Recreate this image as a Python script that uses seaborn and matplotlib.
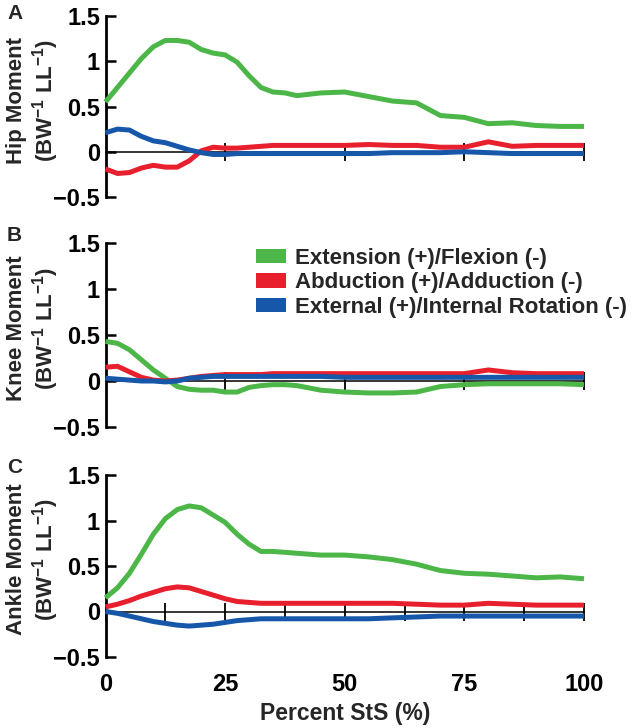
import numpy as np
import pandas as pd
import matplotlib
matplotlib.use("Agg")
import matplotlib.pyplot as plt
import seaborn as sns
from matplotlib.patches import Patch

# ---------------- data ----------------
pct = [0, 2.5, 5, 7.5, 10, 12.5, 15, 17.5, 20, 22.5, 25, 27.5, 30, 32.5, 35,
       37.5, 40, 45, 50, 55, 60, 65, 70, 75, 80, 85, 90, 95, 100]

hip_ext = [0.55, 0.71, 0.87, 1.03, 1.16, 1.23, 1.23, 1.21, 1.13, 1.09, 1.07, 0.99,
           0.84, 0.71, 0.66, 0.65, 0.62, 0.65, 0.66, 0.61, 0.56, 0.54, 0.40, 0.38,
           0.31, 0.32, 0.29, 0.28, 0.28]
hip_abd = [-0.19, -0.24, -0.23, -0.18, -0.15, -0.17, -0.17, -0.10, 0.01, 0.05, 0.04,
           0.04, 0.05, 0.06, 0.07, 0.07, 0.07, 0.07, 0.07, 0.08, 0.07, 0.07, 0.05,
           0.05, 0.11, 0.06, 0.07, 0.07, 0.07]
hip_rot = [0.21, 0.25, 0.24, 0.17, 0.12, 0.10, 0.06, 0.02, -0.01, -0.03, -0.03,
           -0.02, -0.02, -0.02, -0.02, -0.02, -0.02, -0.02, -0.02, -0.02, -0.01,
           -0.01, -0.01, 0.00, -0.01, -0.02, -0.02, -0.02, -0.02]

knee_ext = [0.43, 0.41, 0.34, 0.23, 0.12, 0.03, -0.06, -0.09, -0.10, -0.10, -0.12,
            -0.12, -0.07, -0.05, -0.04, -0.04, -0.05, -0.10, -0.12, -0.13, -0.13,
            -0.12, -0.06, -0.04, -0.03, -0.03, -0.03, -0.03, -0.04]
knee_abd = [0.15, 0.16, 0.10, 0.04, 0.01, 0.00, 0.01, 0.03, 0.05, 0.06, 0.07, 0.07,
            0.07, 0.07, 0.08, 0.08, 0.08, 0.08, 0.08, 0.08, 0.08, 0.08, 0.08, 0.08,
            0.12, 0.09, 0.08, 0.08, 0.08]
knee_rot = [0.03, 0.02, 0.01, 0.00, 0.00, -0.01, 0.00, 0.03, 0.04, 0.05, 0.05, 0.05,
            0.05, 0.05, 0.05, 0.05, 0.05, 0.05, 0.04, 0.04, 0.04, 0.04, 0.04, 0.04,
            0.04, 0.04, 0.04, 0.04, 0.04]

ankle_ext = [0.15, 0.26, 0.42, 0.63, 0.85, 1.02, 1.12, 1.16, 1.14, 1.06, 0.98, 0.85,
             0.74, 0.66, 0.66, 0.65, 0.64, 0.62, 0.62, 0.60, 0.57, 0.52, 0.45, 0.42,
             0.41, 0.39, 0.37, 0.38, 0.36]
ankle_abd = [0.05, 0.08, 0.12, 0.17, 0.21, 0.25, 0.27, 0.26, 0.22, 0.18, 0.14, 0.11,
             0.10, 0.09, 0.09, 0.09, 0.09, 0.09, 0.09, 0.09, 0.09, 0.08, 0.07, 0.07,
             0.09, 0.08, 0.07, 0.07, 0.07]
ankle_rot = [0.00, -0.02, -0.05, -0.08, -0.11, -0.13, -0.15, -0.16, -0.15, -0.14,
             -0.12, -0.10, -0.09, -0.08, -0.08, -0.08, -0.08, -0.08, -0.08, -0.08,
             -0.07, -0.06, -0.05, -0.05, -0.05, -0.05, -0.05, -0.05, -0.05]

components = ["Extension (+)/Flexion (-)", "Abduction (+)/Adduction (-)",
              "External (+)/Internal Rotation (-)"]
joints = ["Hip", "Knee", "Ankle"]
panel_letters = ["A", "B", "C"]
series = {
    "Hip": [hip_ext, hip_abd, hip_rot],
    "Knee": [knee_ext, knee_abd, knee_rot],
    "Ankle": [ankle_ext, ankle_abd, ankle_rot],
}
y_ticks = [-0.5, 0, 0.5, 1, 1.5]
y_tick_labels = ["\u22120.5", "0", "0.5", "1", "1.5"]
x_ticks = [0, 25, 50, 75, 100]
x_minor_ticks = [12.5, 37.5, 62.5, 87.5]
x_label = "Percent StS (%)"

colors = ["#4CB748", "#E8202D", "#1657AA"]

# ---------------- style ----------------
sns.set_theme(style="white")
plt.rcParams["font.family"] = ["Liberation Sans", "DejaVu Sans"]
plt.rcParams["font.weight"] = "bold"
plt.rcParams["mathtext.fontset"] = "custom"
plt.rcParams["mathtext.rm"] = "Liberation Sans:bold"
plt.rcParams["mathtext.bf"] = "Liberation Sans:bold"
plt.rcParams["mathtext.it"] = "Liberation Sans:bold"

W, H = 638, 728
fig = plt.figure(figsize=(W / 100, H / 100), dpi=100)

# axes boxes in pixels: (top of 1.5, bottom of -0.5)
rows_px = [(16, 197), (243, 427), (475, 657)]
left_px, right_px = 105.5, 584
letter_top_px = [4, 226, 458]

axes = []
for i, joint in enumerate(joints):
    top, bot = rows_px[i]
    ax = fig.add_axes([left_px / W, 1 - bot / H, (right_px - left_px) / W, (bot - top) / H])
    axes.append(ax)
    df = pd.DataFrame({
        "pct": np.tile(pct, 3),
        "value": np.concatenate(series[joint]),
        "component": np.repeat(components, len(pct)),
    })
    sns.lineplot(data=df, x="pct", y="value", hue="component", hue_order=components,
                 palette=colors, linewidth=3.6, legend=False, ax=ax, zorder=3,
                 solid_capstyle="butt")
    for ln in ax.lines:
        ln.set_clip_on(False)

    ax.set_xlim(0, 100)
    ax.set_ylim(-0.5, 1.5)
    for s in ["top", "right"]:
        ax.spines[s].set_visible(False)
    ax.spines["left"].set_linewidth(2.0)
    ax.spines["left"].set_color("black")
    ax.spines["bottom"].set_position(("data", 0))
    ax.spines["bottom"].set_linewidth(1.1)
    ax.spines["bottom"].set_color("black")
    ax.spines["bottom"].set_zorder(2)

    ax.set_yticks(y_ticks)
    ax.set_yticklabels(y_tick_labels)
    ax.tick_params(axis="y", direction="in", length=7.5, width=1.8, pad=4,
                   labelsize=17, colors="black", left=True)

    if i < 2:
        ax.set_xticks([25, 50, 75, 100])
        ax.tick_params(axis="x", direction="inout", length=13, width=1.3,
                       labelbottom=False, bottom=True, colors="black")
        ax.set_xlabel("")
    else:
        ax.set_xticks(x_ticks)
        ax.set_xticklabels([str(t) for t in x_ticks])
        ax.set_xticks(x_minor_ticks, minor=True)
        ax.tick_params(axis="x", which="both", direction="inout", length=13,
                       width=1.3, bottom=True, colors="black")
        ax.tick_params(axis="x", which="major", labelsize=17, pad=38)
        ax.set_xlabel(x_label, fontsize=16.5, fontweight="bold")
        ax.xaxis.set_label_coords(0.5, -0.245)
    for lab in ax.get_xticklabels() + ax.get_yticklabels():
        lab.set_fontweight("bold")

    ax.set_ylabel(f"{joint} Moment\n(BW$^{{-1}}$ LL$^{{-1}}$)", fontsize=16,
                  fontweight="bold", linespacing=1.15)
    ax.yaxis.set_label_coords(-0.092, 0.535)
    ax.patch.set_alpha(0)

    fig.text(7 / W, 1 - letter_top_px[i] / H, panel_letters[i], fontsize=15,
             fontweight="bold", va="top", ha="left")

handles = [Patch(facecolor=c, edgecolor="none", label=l) for c, l in zip(colors, components)]
fig.legend(handles=handles, loc="upper left", bbox_to_anchor=(256 / W, 1 - 248 / H),
           frameon=False, prop={"weight": "bold", "size": 16}, handlelength=1.35,
           handleheight=0.6, handletextpad=0.4, labelspacing=0.15, borderpad=0,
           borderaxespad=0)

fig.savefig("out.png", dpi=100)
